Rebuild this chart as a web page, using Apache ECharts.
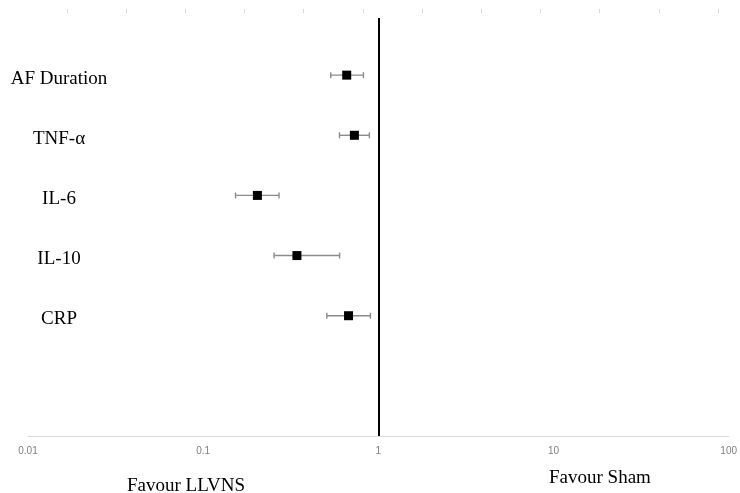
<!DOCTYPE html>
<html>
<head>
<meta charset="utf-8">
<script src="https://cdn.jsdelivr.net/npm/echarts@6/dist/echarts.min.js"></script>
<style>html,body{margin:0;padding:0;background:#fff}#c{width:740px;height:493px}</style>
</head>
<body>
<div id="c"></div>
<script>
const categories = ['AF Duration', 'TNF-\u03b1', 'IL-6', 'IL-10', 'CRP'];
const rowPos = [6, 5, 4, 3, 2];
const estimate = [0.66, 0.73, 0.204, 0.343, 0.676];
const lower = [0.535, 0.60, 0.153, 0.254, 0.508];
const upper = [0.822, 0.889, 0.271, 0.601, 0.901];
const xTickLabels = ['0.01', '0.1', '1', '10', '100'];
const topTicks = [0,1,2,3,4,5,6,7,8,9,10,11];

const chart = echarts.init(document.getElementById('c'), null, {renderer: 'canvas'});
const serif = '"Liberation Serif", "DejaVu Serif", serif';

const labelMap = {};
rowPos.forEach((p, i) => labelMap[p] = categories[i]);

chart.setOption({
  animation: false,
  backgroundColor: '#fff',
  grid: [
    {left: 28, right: 9, top: 18, bottom: 57},
    {left: 67, width: 651, top: 8, height: 1}
  ],
  xAxis: [
    {
      type: 'log', logBase: 10, min: 0.01, max: 100, gridIndex: 0,
      axisLine: {show: true, lineStyle: {color: '#d9d9d9', width: 1}},
      axisTick: {show: false},
      splitLine: {show: false},
      minorTick: {show: false},
      axisLabel: {
        color: '#7f7f7f', fontSize: 10, margin: 10,
        fontFamily: '"Liberation Sans", Arial, sans-serif',
        formatter: v => {
          const idx = Math.round(Math.log10(v)) + 2;
          return xTickLabels[idx] !== undefined ? xTickLabels[idx] : '';
        }
      }
    },
    {
      type: 'value', gridIndex: 1, position: 'top', min: 0, max: 11, interval: 1,
      axisLine: {show: false},
      axisTick: {show: true, inside: true, length: 4, lineStyle: {color: '#d9d9d9', width: 1}},
      axisLabel: {show: false},
      splitLine: {show: false}
    }
  ],
  yAxis: [
    {
      type: 'value', min: 0, max: 6.95, interval: 1, gridIndex: 0,
      axisLine: {show: false}, axisTick: {show: false}, splitLine: {show: false},
      axisLabel: {
        inside: true, align: 'center', margin: 31,
        formatter: v => labelMap[v] ? '{t|' + labelMap[v] + '}' : '',
        rich: {
          t: {color: '#000', fontSize: 19, fontFamily: serif, padding: [7, 0, 0, 0]}
        }
      }
    },
    {
      type: 'value', gridIndex: 1, min: 0, max: 1, show: false
    }
  ],
  graphic: [
    {type: 'text', left: 127, top: 477, style: {text: 'Favour LLVNS', font: '19px ' + serif, fill: '#000'}},
    {type: 'text', left: 549, top: 469, style: {text: 'Favour Sham', font: '19px ' + serif, fill: '#000'}}
  ],
  series: [
    {
      type: 'custom',
      xAxisIndex: 0, yAxisIndex: 0,
      data: rowPos.map((p, i) => [lower[i], upper[i], p]),
      renderItem: (params, api) => {
        const a = api.coord([api.value(0), api.value(2)]);
        const b = api.coord([api.value(1), api.value(2)]);
        const cap = 3;
        const st = {stroke: '#8c8c8c', lineWidth: 1.4};
        return {
          type: 'group',
          children: [
            {type: 'line', shape: {x1: a[0], y1: a[1], x2: b[0], y2: b[1]}, style: st},
            {type: 'line', shape: {x1: a[0], y1: a[1] - cap, x2: a[0], y2: a[1] + cap}, style: st},
            {type: 'line', shape: {x1: b[0], y1: b[1] - cap, x2: b[0], y2: b[1] + cap}, style: st}
          ]
        };
      },
      z: 2
    },
    {
      type: 'scatter',
      xAxisIndex: 0, yAxisIndex: 0,
      symbol: 'rect', symbolSize: 9,
      itemStyle: {color: '#000', opacity: 1},
      data: rowPos.map((p, i) => [estimate[i], p]),
      z: 3,
      markLine: {
        silent: true, symbol: 'none', label: {show: false},
        lineStyle: {color: '#000', width: 2, type: 'solid', opacity: 1},
        data: [{xAxis: 1}]
      }
    },
    {
      type: 'scatter', xAxisIndex: 1, yAxisIndex: 1, symbolSize: 0,
      data: topTicks.map(t => [t, 0])
    }
  ]
});
</script>
</body>
</html>
